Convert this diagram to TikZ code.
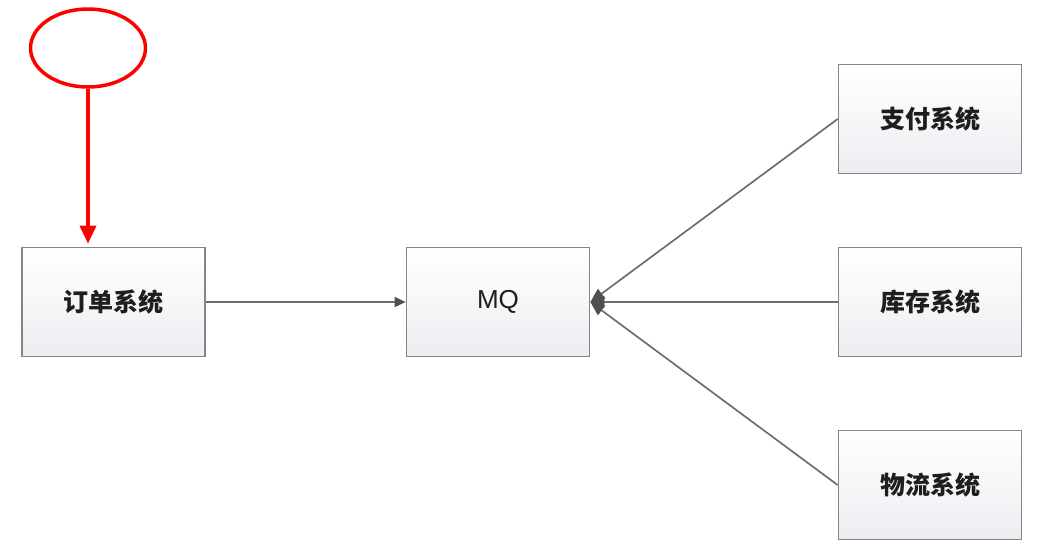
\documentclass[tikz,border=0pt]{standalone}
\usepackage{fontspec}
\newfontfamily\cjk{Noto Sans CJK SC}
\newfontfamily\latinsans{Liberation Sans}
\usetikzlibrary{arrows.meta,shapes.geometric}
\definecolor{boxline}{HTML}{858585}
\definecolor{boxbot}{HTML}{EEECF1}
\definecolor{conncol}{HTML}{6E6E6E}
\definecolor{tipcol}{HTML}{505050}
\definecolor{txt}{HTML}{1E1E1E}
\begin{document}
\begin{tikzpicture}[x=1pt,y=-1pt,
  sysbox/.style={draw=boxline, line width=1.7, minimum width=183, minimum height=109,
    top color=white, bottom color=boxbot, text=txt, inner sep=0,
    font=\cjk\bfseries\fontsize{25}{28}\selectfont},
  conn/.style={draw=conncol, line width=1.7},
  ctip/.style={-{Triangle[length=14,width=12,color=tipcol]}},
  redline/.style={draw=red, line width=3.5}]
\useasboundingbox[fill=white] (0,0) rectangle (1039,550);
\node[ellipse, redline, minimum width=115, minimum height=78] (start) at (88,48) {};
\node[sysbox] (order) at (113.5,302) {订单系统};
\node[sysbox, font=\latinsans\fontsize{26}{28}\selectfont] (mq) at (498,302) {MQ};
\node[sysbox] (pay) at (930,119) {支付系统};
\node[sysbox] (stock) at (930,302) {库存系统};
\node[sysbox] (ship) at (930,485) {物流系统};
\draw[redline, -{Triangle[length=18,width=16]}, shorten >=3] (start.south) -- (start.south |- order.north);
\draw[conn, -{Triangle[length=11,width=10,color=tipcol]}] (order.east) -- (mq.west);
\draw[conn, ctip] (pay.west) -- (mq.east);
\draw[conn, ctip] (stock.west) -- (mq.east);
\draw[conn, ctip] (ship.west) -- (mq.east);
\end{tikzpicture}
\end{document}
